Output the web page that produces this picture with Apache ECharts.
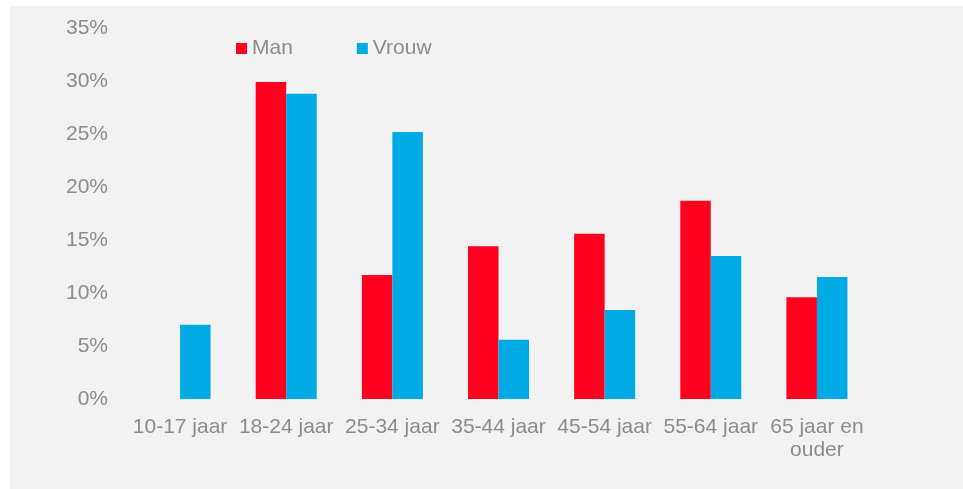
<!DOCTYPE html>
<html>
<head>
<meta charset="utf-8">
<script src="https://cdn.jsdelivr.net/npm/echarts@6/dist/echarts.min.js"></script>
<style>
  html, body { margin: 0; padding: 0; background: #fff; }
  #chart { position: absolute; left: 10px; top: 6px; width: 953px; height: 483px; }
</style>
</head>
<body>
<div id="chart"></div>
<script>
// leeftijdsgroepen
let categories = ['10-17 jaar', '18-24 jaar', '25-34 jaar', '35-44 jaar', '45-54 jaar', '55-64 jaar', '65 jaar en\nouder'];
let man = [0, 29.9, 11.7, 14.4, 15.6, 18.7, 9.6];
let vrouw = [7.0, 28.8, 25.2, 5.6, 8.4, 13.5, 11.5];

let textColor = '#8c8c8c';
let font = 'Liberation Sans, Arial, sans-serif';

let mychart = echarts.init(document.getElementById('chart'));
mychart.setOption({
  backgroundColor: '#f2f2f2',
  animation: false,
  legend: {
    left: 221,
    top: 27,
    itemWidth: 11,
    itemHeight: 11,
    itemGap: 64,
    icon: 'rect',
    textStyle: { color: textColor, fontSize: 21, fontFamily: font },
    data: ['Man', 'Vrouw']
  },
  grid: { left: 117, right: 93, top: 22, bottom: 90 },
  xAxis: {
    type: 'category',
    data: categories,
    axisLine: { show: false },
    axisTick: { show: false },
    axisLabel: {
      color: textColor, fontSize: 21, fontFamily: font,
      margin: 17, lineHeight: 23, interval: 0
    }
  },
  yAxis: {
    type: 'value',
    min: 0,
    max: 35,
    interval: 5,
    splitLine: { show: false },
    axisLine: { show: false },
    axisTick: { show: false },
    axisLabel: {
      color: textColor, fontSize: 21, fontFamily: font, margin: 19,
      formatter: '{value}%'
    }
  },
  series: [
    {
      name: 'Man',
      type: 'bar',
      data: man,
      barWidth: 30.5,
      barGap: '0%',
      itemStyle: { color: '#ff001f' }
    },
    {
      name: 'Vrouw',
      type: 'bar',
      data: vrouw,
      barWidth: 30.5,
      barGap: '0%',
      itemStyle: { color: '#00aae4' }
    }
  ]
});
</script>
</body>
</html>
